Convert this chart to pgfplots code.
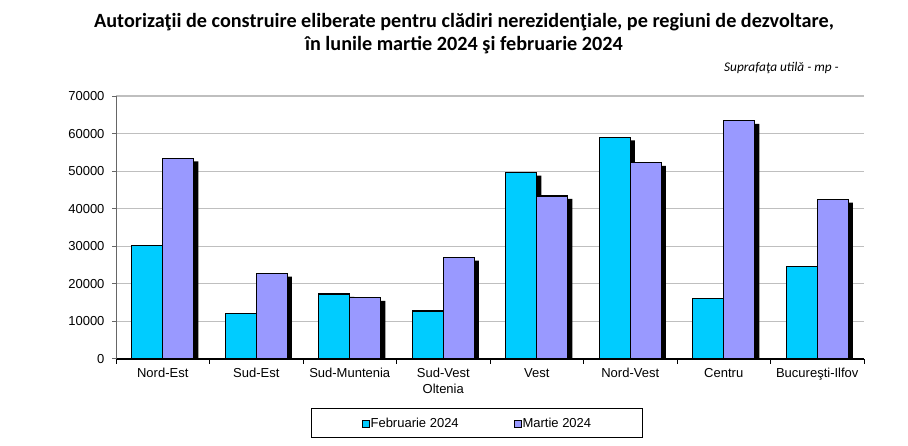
\documentclass[border=0pt]{standalone}
\usepackage{pgfplots}
\usepackage{pgfplotstable}
\pgfplotsset{compat=1.18}
\usepackage{fontspec}
\setmainfont{Liberation Sans}
\newfontfamily\carlito{Carlito}
\definecolor{feb}{HTML}{00CCFF}
\definecolor{mar}{HTML}{9999FF}
\pgfplotstableread{
x feb mar
0 30300 53400
1 12200 22700
2 17300 16300
3 12800 27000
4 49600 43400
5 59000 52200
6 16000 63400
7 24700 42400
}\data
\begin{document}
\begin{tikzpicture}
\useasboundingbox (0,0) rectangle (908pt,446pt);
\node[font=\carlito\bfseries\fontsize{20.2}{23}\selectfont, align=center] at (464pt,412pt)
  {Autorizaţii de construire eliberate pentru clădiri nerezidenţiale, pe regiuni de dezvoltare,\\în lunile martie 2024 şi februarie 2024};
\node[font=\carlito\itshape\fontsize{13.3}{15}\selectfont, anchor=east, inner sep=0pt] at (839pt,378pt)
  {Suprafaţa utilă - mp -};
\begin{axis}[
  at={(116pt,87pt)}, anchor=south west,
  scale only axis, width=748pt, height=263pt,
  ymin=0, ymax=70000, ytick={0,10000,...,70000},
  scaled y ticks=false,
  xmin=-0.5, xmax=7.5,
  xtick={0,...,7},
  xticklabels={Nord-Est, Sud-Est, Sud-Muntenia, {Sud-Vest\\Oltenia}, Vest, Nord-Vest, Centru, Bucureşti-Ilfov},
  minor xtick={-0.5,0.5,...,7.5},
  axis x line*=bottom, axis y line*=left,
  x axis line style={black, line width=1.6pt},
  y axis line style={black!60, line width=1pt},
  tick align=outside,
  major tick length=4pt, minor tick length=5pt,
  major x tick style={draw=none},
  minor x tick style={black, line width=1pt},
  ytick style={black!60, line width=1pt},
  ymajorgrids, major grid style={black!25, line width=1.2pt},
  /pgf/number format/1000 sep={},
  /pgf/number format/assume math mode=true,
  tick label style={font=\fontsize{13}{15.5}\selectfont},
  xticklabel style={align=center, yshift=-2pt},
  yticklabel style={xshift=-4pt},
  bar width=31pt,
  legend columns=2,
  legend style={at={(0.4826,-0.245)}, anchor=center, draw=black, line width=1pt,
    font=\fontsize{13}{15.5}\selectfont, inner xsep=50pt, inner ysep=7pt,
    /tikz/every even column/.append style={column sep=54pt},
    nodes={inner xsep=1pt}},
]
\addplot[ybar, bar shift=-11pt, fill=black, draw=none, yshift=-3pt, forget plot] table[x=x,y=feb] {\data};
\addplot[ybar, bar shift=-15.5pt, fill=feb, draw=black, line width=1.2pt,
  legend image code/.code={\draw[fill=feb, draw=black, line width=0.8pt] (0pt,-3.5pt) rectangle (7pt,3.5pt);}] table[x=x,y=feb] {\data};
\addlegendentry{Februarie 2024}
\addplot[ybar, bar shift=20pt, fill=black, draw=none, yshift=-3pt, forget plot] table[x=x,y=mar] {\data};
\addplot[ybar, bar shift=15.5pt, fill=mar, draw=black, line width=1.2pt,
  legend image code/.code={\draw[fill=mar, draw=black, line width=0.8pt] (0pt,-3.5pt) rectangle (7pt,3.5pt);}] table[x=x,y=mar] {\data};
\addlegendentry{Martie 2024}
\end{axis}
\end{tikzpicture}
\end{document}
